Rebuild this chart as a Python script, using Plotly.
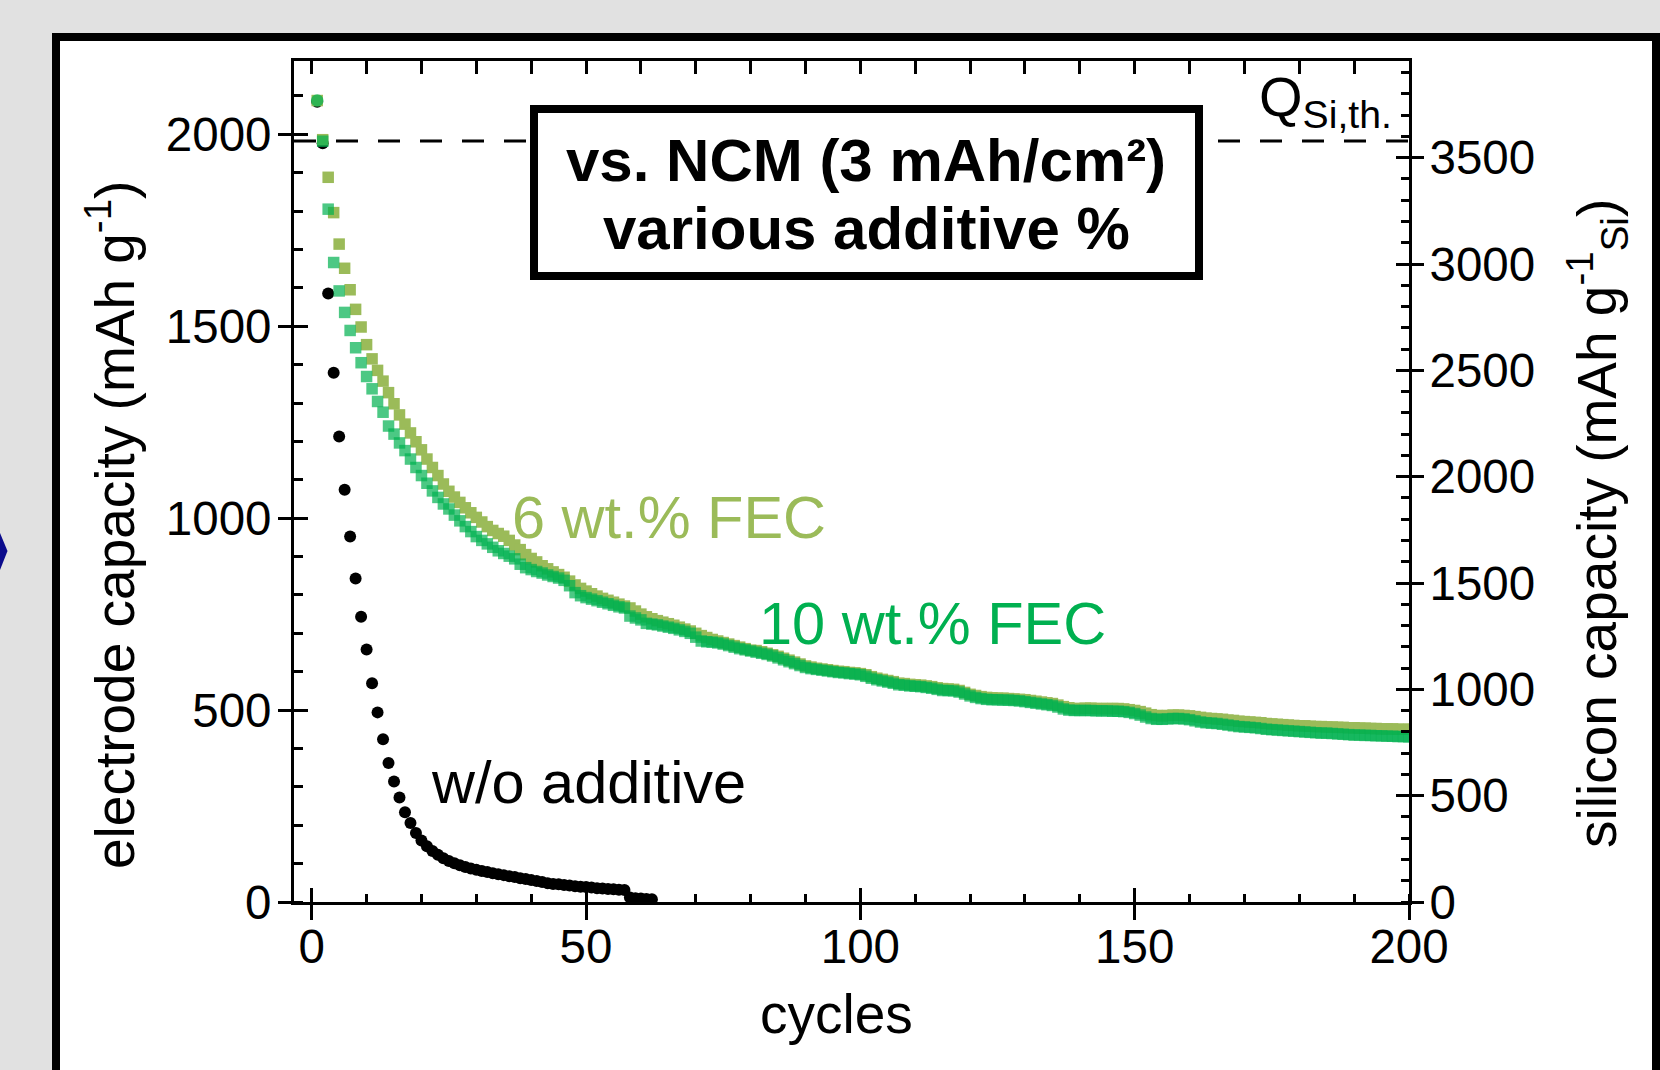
import plotly.graph_objects as go

# ---------------- data ----------------
cycles_wo = list(range(1, 63))
cap_wo = [2085, 1977, 1585, 1379, 1213, 1074, 952, 843, 743, 658,
          570, 494, 424, 362, 314, 272, 234, 206, 180, 160,
          145, 133, 123, 114, 107, 101, 96, 91, 87, 84,
          81, 78, 75, 72, 70, 67, 65, 62, 60, 57,
          55, 52, 49, 47, 46, 44, 43, 41, 40, 39,
          38, 36, 35, 34, 33, 32, 31, 12, 10, 9,
          8, 7]

cycles_fec = list(range(1, 201))
cap_10 = [2088, 1982, 1805, 1666, 1592, 1536, 1489, 1444, 1405, 1369,
          1337, 1304, 1276, 1240, 1219, 1196, 1176, 1154, 1132, 1111,
          1091, 1071, 1054, 1037, 1024, 1008, 993, 978, 965, 952,
          942, 933, 924, 915, 908, 901, 894, 880, 871, 866,
          861, 857, 852, 848, 844, 838, 824, 806, 798, 793,
          789, 785, 781, 777, 773, 769, 766, 745, 740, 735,
          726, 724, 722, 719, 716, 713, 709, 705, 700, 690,
          680, 678, 677, 675, 672, 668, 664, 660, 657, 654,
          651, 648, 645, 641, 636, 631, 626, 621, 616, 611,
          608, 606, 604, 602, 600, 598, 597, 595, 594, 592,
          588, 583, 579, 576, 573, 570, 566, 565, 563, 562,
          561, 559, 557, 554, 551, 551, 550, 547, 542, 537,
          533, 530, 528, 527, 527, 526, 526, 525, 524, 522,
          520, 518, 516, 514, 512, 508, 503, 500, 499, 499,
          499, 499, 498, 498, 498, 497, 497, 496, 494, 491,
          487, 482, 478, 476, 476, 477, 478, 478, 477, 475,
          472, 469, 467, 466, 465, 463, 461, 459, 457, 456,
          455, 454, 452, 450, 449, 448, 447, 446, 445, 444,
          443, 442, 441, 440, 440, 439, 438, 437, 436, 435,
          435, 434, 434, 433, 433, 432, 432, 431, 431, 430]
cap_6 = [2088, 1986, 1888, 1796, 1714, 1651, 1595, 1544, 1498, 1452,
         1415, 1385, 1357, 1327, 1298, 1269, 1245, 1222, 1199, 1178,
         1154, 1132, 1111, 1089, 1070, 1055, 1041, 1027, 1014, 1002,
         990, 978, 968, 960, 953, 942, 930, 918, 905, 895,
         886, 876, 868, 860, 853, 846, 836, 826, 817, 810,
         803, 797, 791, 786, 781, 776, 771, 766, 758, 750,
         743, 738, 733, 729, 725, 721, 716, 711, 706, 700,
         694, 689, 684, 680, 676, 672, 668, 664, 660, 656,
         655, 652, 648, 644, 640, 635, 630, 625, 620, 615,
         612, 609, 607, 605, 603, 601, 600, 598, 597, 595,
         592, 587, 583, 580, 577, 574, 570, 569, 567, 566,
         565, 563, 561, 558, 556, 555, 554, 551, 546, 541,
         538, 535, 533, 532, 531, 531, 530, 529, 528, 527,
         525, 523, 521, 519, 517, 513, 509, 506, 504, 504,
         505, 505, 504, 504, 504, 504, 504, 503, 501, 499,
         496, 492, 488, 486, 485, 486, 487, 487, 486, 485,
         483, 481, 479, 478, 477, 476, 474, 473, 471, 470,
         469, 468, 467, 465, 464, 463, 462, 461, 460, 459,
         459, 458, 457, 457, 456, 456, 455, 455, 454, 454,
         453, 453, 452, 452, 451, 451, 451, 450, 450, 450]

Q_SI_TH = 3579          # theoretical Si capacity (mAh/g_Si)
SI_RATIO = 1.805        # silicon capacity / electrode capacity
x_ticks = [0, 50, 100, 150, 200]
y_left_ticks = [0, 500, 1000, 1500, 2000]
y_right_ticks = [0, 500, 1000, 1500, 2000, 2500, 3000, 3500]

# ---------------- layout geometry ----------------
W, H = 1660, 1070
L, R, T, B = 294, 1409, 61, 902
XR = [-3.23, 200]
YR = [0, 2191]
YR2 = [0, YR[1] * SI_RATIO]

def px(x):
    return (x - L) / (R - L)

def py(y):
    return (B - y) / (B - T)

FONT = "Liberation Sans, Arial, sans-serif"
C6 = "#9BBB59"
C10 = "#00B050"

fig = go.Figure()
fig.add_trace(go.Scatter(x=cycles_wo, y=cap_wo, mode="markers",
                         marker=dict(symbol="circle", size=12, color="black", line=dict(width=0)),
                         showlegend=False))
fig.add_trace(go.Scatter(x=cycles_fec, y=cap_6, mode="markers",
                         marker=dict(symbol="square", size=11.5, color=C6, line=dict(width=0)),
                         showlegend=False))
sym10 = ["circle"] + ["square"] * (len(cycles_fec) - 1)
size10 = [12.5] + [11.5] * (len(cycles_fec) - 1)
fig.add_trace(go.Scatter(x=cycles_fec, y=cap_10, mode="markers",
                         marker=dict(symbol=sym10, size=size10, color=C10, line=dict(width=0)),
                         showlegend=False))

# empty helper traces so that the overlay axes (ticks on every side) get drawn
for xa, ya in [("x", "y2"), ("x", "y3"), ("x", "y4"), ("x3", "y"), ("x4", "y")]:
    fig.add_trace(go.Scatter(x=[None], y=[None], xaxis=xa, yaxis=ya, mode="markers",
                             showlegend=False, hoverinfo="skip"))

tickfont = dict(family=FONT, size=47.5, color="black")
common = dict(showgrid=False, zeroline=False, color="black")

layout = dict(
    width=W, height=H, autosize=False,
    margin=dict(l=L, r=W - R, t=T, b=H - B, pad=0),
    paper_bgcolor="#E1E1E1", plot_bgcolor="white",
    font=dict(family=FONT, color="black"),
    xaxis=dict(range=XR, tickmode="array", tickvals=x_ticks, ticks="outside", ticklen=15,
               tickwidth=3, showline=True, linewidth=3, linecolor="black", tickcolor="black",
               tickfont=tickfont, ticklabelstandoff=-14,
               minor=dict(ticks="inside", tickmode="linear", tick0=0, dtick=10, ticklen=8,
                          tickwidth=2.5, tickcolor="black"),
               **common),
    xaxis3=dict(range=XR, overlaying="x", anchor="y", side="bottom", tickmode="array",
                tickvals=x_ticks, ticks="inside", ticklen=14, tickwidth=3, tickcolor="black",
                showticklabels=False, showline=False, **common),
    xaxis4=dict(range=XR, overlaying="x", anchor="y", side="top", tickmode="linear",
                tick0=0, dtick=10, ticks="inside", ticklen=13, tickwidth=2.5, tickcolor="black",
                showticklabels=False, showline=True, linewidth=3, linecolor="black", **common),
    yaxis=dict(range=YR, tickmode="array", tickvals=y_left_ticks, ticks="outside", ticklen=13,
               tickwidth=3, showline=True, linewidth=3, linecolor="black", tickcolor="black",
               tickfont=tickfont, ticklabelstandoff=-3,
               minor=dict(ticks="inside", tickmode="linear", tick0=0, dtick=100, ticklen=9,
                          tickwidth=2.5, tickcolor="black"),
               **common),
    yaxis3=dict(range=YR, overlaying="y", anchor="x", side="left", tickmode="array",
                tickvals=y_left_ticks, ticks="inside", ticklen=14, tickwidth=3, tickcolor="black",
                showticklabels=False, showline=False, **common),
    yaxis2=dict(range=YR2, overlaying="y", anchor="x", side="right", tickmode="array",
                tickvals=y_right_ticks, ticks="outside", ticklen=12, tickwidth=3,
                showline=True, linewidth=3, linecolor="black", tickcolor="black",
                tickfont=tickfont, ticklabelstandoff=-4,
                minor=dict(ticks="inside", tickmode="linear", tick0=0, dtick=100, ticklen=8,
                           tickwidth=2.5, tickcolor="black"),
                **common),
    yaxis4=dict(range=YR2, overlaying="y", anchor="x", side="right", tickmode="array",
                tickvals=y_right_ticks, ticks="inside", ticklen=13, tickwidth=3, tickcolor="black",
                showticklabels=False, showline=False, **common),
)
fig.update_layout(**layout)

shapes = [
    # white panel with thick black frame
    dict(type="rect", xref="paper", yref="paper", x0=px(56), x1=px(1656), y0=py(1120), y1=py(37),
         line=dict(color="black", width=8), fillcolor="white", layer="below"),
    # blue arrow tip at the far left
    dict(type="path", xref="paper", yref="paper",
         path="M %f,%f L %f,%f L %f,%f L %f,%f L %f,%f Z" % (
             px(-20), py(528), px(0), py(533), px(7.5), py(551), px(0), py(570), px(-20), py(575)),
         fillcolor="#0B0B8C", line=dict(width=0), layer="above"),
    # theoretical capacity line
    dict(type="line", xref="x", yref="y", x0=XR[0], x1=XR[1], y0=Q_SI_TH / SI_RATIO, y1=Q_SI_TH / SI_RATIO,
         line=dict(color="black", width=3, dash="22px,20px"), layer="above"),
    # title box
    dict(type="rect", xref="paper", yref="paper", x0=px(534), x1=px(1199), y0=py(276), y1=py(109),
         line=dict(color="black", width=8), fillcolor="white", layer="above"),
]
fig.update_layout(shapes=shapes)

def ann(text, x, y, size, color="black", xanchor="center", yanchor="middle", angle=0, bold=False):
    if bold:
        text = "<b>" + text + "</b>"
    return dict(text=text, xref="paper", yref="paper", x=px(x), y=py(y), xanchor=xanchor,
                yanchor=yanchor, showarrow=False, textangle=angle,
                font=dict(family=FONT, size=size, color=color))

annotations = [
    ann("vs. NCM (3 mAh/cm²)", 866, 160, 60, bold=True),
    ann("various additive %", 866, 229, 60, bold=True),
    ann("Q<sub>Si,th.</sub>", 1394, 101, 56, xanchor="right"),
    ann("6 wt.% FEC", 510, 517, 59.5, color=C6, xanchor="left"),
    ann("10 wt.% FEC", 757, 623, 59.5, color=C10, xanchor="left"),
    ann("w/o additive", 429, 782, 59.5, xanchor="left"),
    ann("cycles", 836, 1014, 55),
    ann("electrode capacity (mAh g<sup>-1</sup>)", 111, 525, 55, angle=-90),
    ann("silicon capacity (mAh g<sup>-1</sup><sub>Si</sub>)", 1597, 524, 55, angle=-90),
]
fig.update_layout(annotations=annotations)

fig.write_html("out.html")
